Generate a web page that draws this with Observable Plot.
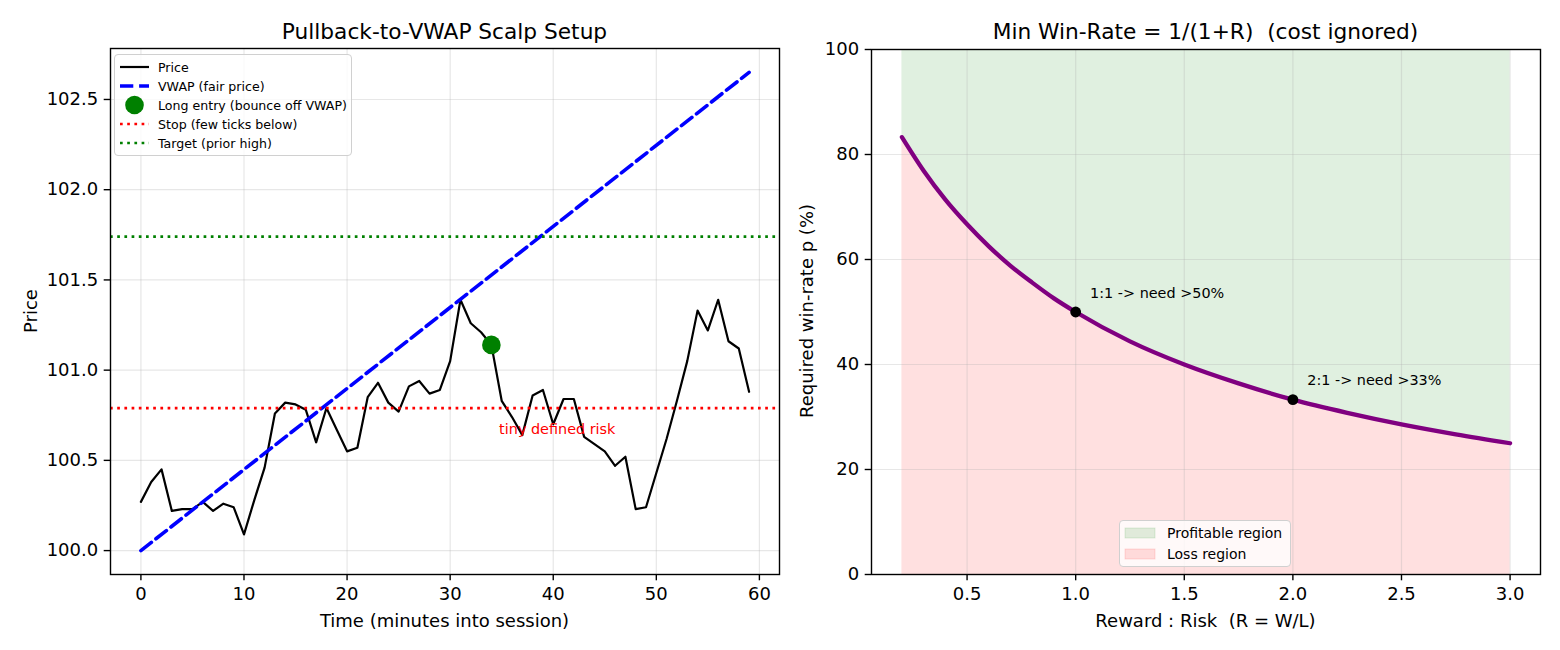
<!DOCTYPE html>
<html>
<head>
<meta charset="utf-8">
<script src="https://cdn.jsdelivr.net/npm/d3@7"></script>
<script src="https://cdn.jsdelivr.net/npm/@observablehq/plot@0.6"></script>
<style>
  html, body { margin: 0; padding: 0; background: white; }
  #root { position: relative; width: 1560px; height: 650px; font-family: "DejaVu Sans", sans-serif; color: black; overflow: hidden; }
  .abs { position: absolute; }
  .title { font-size: 21.7px; white-space: pre; transform: translate(-50%, -50%); }
  .xlabel { font-size: 18px; white-space: pre; transform: translate(-50%, -50%); }
  .ylabel { font-size: 18px; white-space: pre; transform: translate(-50%, -50%) rotate(-90deg); }
  .legend { background: rgba(255,255,255,0.8); border: 1px solid #d0d0d0; border-radius: 4px; box-sizing: border-box; }
  .legrow { position: absolute; display: flex; align-items: center; white-space: pre; }
  .legrow svg { flex: none; }
</style>
</head>
<body>
<div id="root"></div>
<script>
// ---------------- Left panel data ----------------
const minutes = [0,1,2,3,4,5,6,7,8,9,10,11,12,13,14,15,16,17,18,19,20,21,22,23,24,25,26,27,28,29,30,31,32,33,34,35,36,37,38,39,40,41,42,43,44,45,46,47,48,49,50,51,52,53,54,55,56,57,58,59];
const price = [100.27,100.38,100.45,100.22,100.23,100.23,100.27,100.22,100.26,100.24,
               100.09,100.28,100.46,100.76,100.82,100.81,100.78,100.60,100.79,100.67,
               100.55,100.57,100.85,100.93,100.82,100.77,100.91,100.94,100.87,100.89,
               101.05,101.39,101.26,101.21,101.14,100.83,100.74,100.64,100.86,100.89,
               100.70,100.84,100.84,100.63,100.59,100.55,100.47,100.52,100.23,100.24,
               100.43,100.62,100.83,101.05,101.33,101.22,101.39,101.16,101.12,100.88];
const vwapT = [0, 59];
const vwapV = [100.0, 102.65];
const entryT = [34];
const entryP = [101.14];
const stopLevel = [100.79];
const targetLevel = [101.74];
const riskNoteT = [34.75];
const riskNoteP = [100.645];
const riskNoteText = ["tiny defined risk"];
const leftXTicks = [0,10,20,30,40,50,60];
const leftYTicks = [100.0,100.5,101.0,101.5,102.0,102.5];

// ---------------- Right panel data ----------------
const rewardRisk = [0.2,0.3,0.4,0.5,0.6,0.7,0.8,0.9,1.0,1.25,1.5,1.75,2.0,2.25,2.5,2.75,3.0];
const minWinRate = [83.3,76.9,71.4,66.7,62.5,58.8,55.6,52.6,50.0,44.4,40.0,36.4,33.3,30.8,28.6,26.7,25.0];
const markR = [1, 2];
const markP = [50.0, 33.3];
const markLabels = ["1:1 -> need >50%", "2:1 -> need >33%"];
const rightXTicks = [0.5,1.0,1.5,2.0,2.5,3.0];
const rightYTicks = [0,20,40,60,80,100];

// ---------------- Tables ----------------
const priceData = minutes.map((t, i) => ({t, p: price[i]}));
const vwapData = vwapT.map((t, i) => ({t, p: vwapV[i]}));
const entryData = entryT.map((t, i) => ({t, p: entryP[i]}));
const noteData = riskNoteT.map((t, i) => ({t, p: riskNoteP[i], label: riskNoteText[i]}));
const curveData = rewardRisk.map((R, i) => ({R, p: minWinRate[i]}));
const markData = markR.map((R, i) => ({R, p: markP[i], label: markLabels[i]}));

const root = document.getElementById("root");
const baseStyle = {fontFamily: "DejaVu Sans, sans-serif", fontSize: "18px", color: "black", background: "transparent", overflow: "visible"};

// ---------------- Left chart ----------------
const left = Plot.plot({
  width: 790, height: 650,
  marginLeft: 110, marginRight: 11, marginTop: 48, marginBottom: 76,
  style: baseStyle,
  x: {domain: [-2.95, 61.95]},
  y: {domain: [99.8675, 102.7825]},
  marks: [
    Plot.gridX(leftXTicks, {stroke: "#b0b0b0", strokeOpacity: 0.3, strokeWidth: 1.2}),
    Plot.gridY(leftYTicks, {stroke: "#b0b0b0", strokeOpacity: 0.3, strokeWidth: 1.2}),
    Plot.line(priceData, {x: "t", y: "p", stroke: "black", strokeWidth: 2.2}),
    Plot.line(vwapData, {x: "t", y: "p", stroke: "#0000ff", strokeWidth: 3.6, strokeDasharray: "13.3,5.8"}),
    Plot.dot(entryData, {x: "t", y: "p", r: 9.3, fill: "#008000", stroke: "none"}),
    Plot.ruleY(stopLevel, {stroke: "#ff0000", strokeWidth: 2.7, strokeDasharray: "2.7,4.5"}),
    Plot.ruleY(targetLevel, {stroke: "#008000", strokeWidth: 2.7, strokeDasharray: "2.7,4.5"}),
    Plot.text(noteData, {x: "t", y: "p", text: "label", fill: "#ff0000", fontSize: 14.4, textAnchor: "start", lineAnchor: "bottom"}),
    Plot.frame({stroke: "black", strokeWidth: 1.4}),
    Plot.axisX({ticks: leftXTicks, tickSize: 6.3, tickPadding: 6, label: null, strokeWidth: 1.4, tickFormat: d3.format("d")}),
    Plot.axisY({ticks: leftYTicks, tickSize: 6.3, tickPadding: 6, label: null, strokeWidth: 1.4, tickFormat: d3.format(".1f")})
  ]
});
left.style.position = "absolute"; left.style.left = "0px"; left.style.top = "0px";
root.appendChild(left);

// ---------------- Right chart ----------------
const right = Plot.plot({
  width: 770, height: 650,
  marginLeft: 81, marginRight: 20, marginTop: 49, marginBottom: 76,
  style: baseStyle,
  x: {domain: [0.06, 3.14]},
  y: {domain: [0, 100]},
  marks: [
    Plot.areaY(curveData, {x: "R", y1: "p", y2: 100, fill: "#008000", fillOpacity: 0.12, curve: "monotone-x"}),
    Plot.areaY(curveData, {x: "R", y1: 0, y2: "p", fill: "#ff0000", fillOpacity: 0.12, curve: "monotone-x"}),
    Plot.gridX(rightXTicks, {stroke: "#b0b0b0", strokeOpacity: 0.3, strokeWidth: 1.2}),
    Plot.gridY(rightYTicks, {stroke: "#b0b0b0", strokeOpacity: 0.3, strokeWidth: 1.2}),
    Plot.line(curveData, {x: "R", y: "p", stroke: "#800080", strokeWidth: 4.3, curve: "monotone-x"}),
    Plot.dot(markData, {x: "R", y: "p", r: 5.4, fill: "black", stroke: "none"}),
    Plot.text(markData, {x: "R", y: "p", text: "label", dx: 14.4, dy: -14.4, fontSize: 14.4, textAnchor: "start", lineAnchor: "bottom", fill: "black"}),
    Plot.frame({stroke: "black", strokeWidth: 1.4}),
    Plot.axisX({ticks: rightXTicks, tickSize: 6.3, tickPadding: 6, label: null, strokeWidth: 1.4, tickFormat: d3.format(".1f")}),
    Plot.axisY({ticks: rightYTicks, tickSize: 6.3, tickPadding: 6, label: null, strokeWidth: 1.4, tickFormat: d3.format("d")})
  ]
});
right.style.position = "absolute"; right.style.left = "790px"; right.style.top = "0px";
root.appendChild(right);

// ---------------- Titles & axis labels ----------------
function addText(cls, txt, x, y) {
  const d = document.createElement("div");
  d.className = "abs " + cls;
  d.textContent = txt;
  d.style.left = x + "px"; d.style.top = y + "px";
  root.appendChild(d);
}
addText("title", "Pullback-to-VWAP Scalp Setup", 444.5, 31);
addText("title", "Min Win-Rate = 1/(1+R)  (cost ignored)", 1205.5, 31);
addText("xlabel", "Time (minutes into session)", 444.5, 620);
addText("xlabel", "Reward : Risk  (R = W/L)", 1205.5, 620);
addText("ylabel", "Price", 30, 311);
addText("ylabel", "Required win-rate p (%)", 806, 311);

// ---------------- Legends ----------------
function legend(box, rows, fontSize, textX, handleW) {
  const lg = document.createElement("div");
  lg.className = "abs legend";
  Object.assign(lg.style, {left: box.x + "px", top: box.y + "px", width: box.w + "px", height: box.h + "px"});
  rows.forEach((r, i) => {
    const row = document.createElement("div");
    row.className = "legrow";
    Object.assign(row.style, {left: "0px", top: (r.cy - box.y - 10) + "px", height: "20px", fontSize: fontSize + "px"});
    const ns = "http://www.w3.org/2000/svg";
    const s = document.createElementNS(ns, "svg");
    s.setAttribute("width", textX - box.x); s.setAttribute("height", 20);
    const hx0 = r.hx0 - box.x, hx1 = hx0 + handleW;
    if (r.kind === "line") {
      const l = document.createElementNS(ns, "line");
      l.setAttribute("x1", hx0); l.setAttribute("x2", hx1); l.setAttribute("y1", 10); l.setAttribute("y2", 10);
      l.setAttribute("stroke", r.color); l.setAttribute("stroke-width", r.w);
      if (r.dash) l.setAttribute("stroke-dasharray", r.dash);
      s.appendChild(l);
    } else if (r.kind === "dot") {
      const c = document.createElementNS(ns, "circle");
      c.setAttribute("cx", (hx0 + hx1) / 2); c.setAttribute("cy", 10); c.setAttribute("r", r.r);
      c.setAttribute("fill", r.color);
      s.appendChild(c);
    } else {
      const p = document.createElementNS(ns, "rect");
      p.setAttribute("x", hx0); p.setAttribute("y", 5); p.setAttribute("width", handleW); p.setAttribute("height", 10);
      p.setAttribute("fill", r.color); p.setAttribute("fill-opacity", 0.12);
      p.setAttribute("stroke", r.color); p.setAttribute("stroke-opacity", 0.12);
      s.appendChild(p);
    }
    row.appendChild(s);
    const t = document.createElement("span");
    t.textContent = r.label;
    row.appendChild(t);
    lg.appendChild(row);
  });
  root.appendChild(lg);
}
legend({x: 114, y: 54, w: 238, h: 102}, [
  {kind: "line", label: "Price", color: "black", w: 2.2, cy: 66, hx0: 119},
  {kind: "line", label: "VWAP (fair price)", color: "#0000ff", w: 3.6, dash: "13.3,5.8", cy: 85, hx0: 119},
  {kind: "dot", label: "Long entry (bounce off VWAP)", color: "#008000", r: 9.3, cy: 104, hx0: 119},
  {kind: "line", label: "Stop (few ticks below)", color: "#ff0000", w: 2.7, dash: "2.7,4.5", cy: 123, hx0: 119},
  {kind: "line", label: "Target (prior high)", color: "#008000", w: 2.7, dash: "2.7,4.5", cy: 142, hx0: 119}
], 12.6, 157, 29);
legend({x: 1119, y: 520, w: 172, h: 47}, [
  {kind: "patch", label: "Profitable region", color: "#008000", cy: 532, hx0: 1124},
  {kind: "patch", label: "Loss region", color: "#ff0000", cy: 553, hx0: 1124}
], 14, 1166, 30);
</script>
</body>
</html>
